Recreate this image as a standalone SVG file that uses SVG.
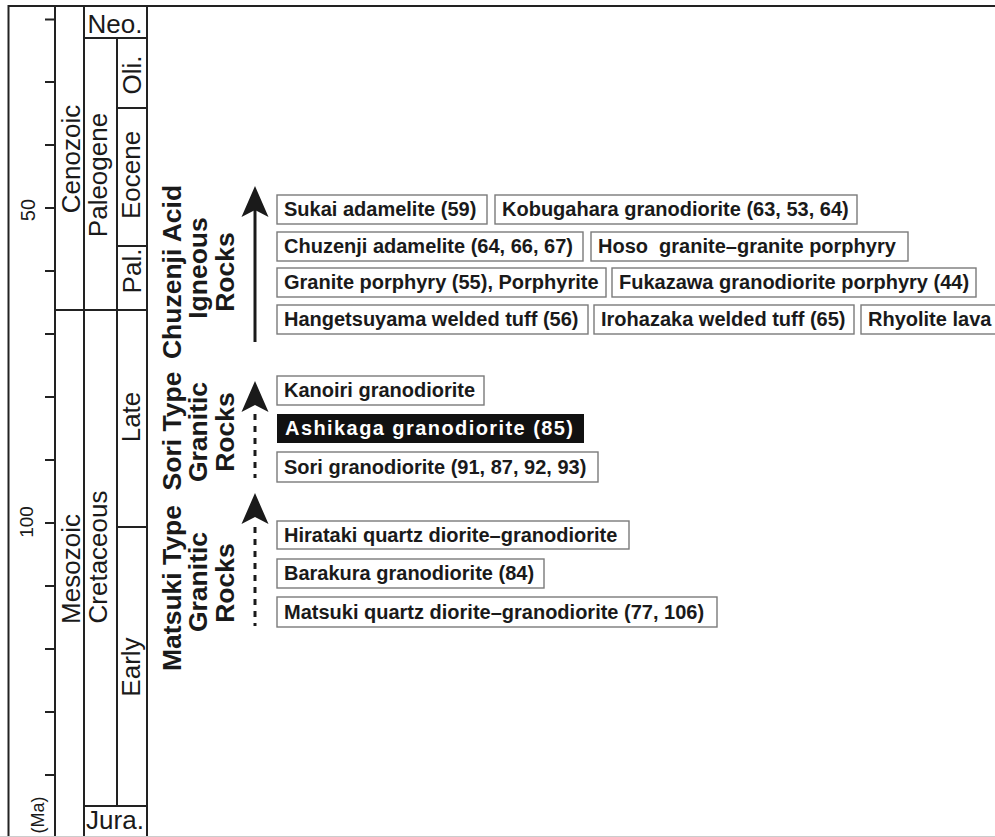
<svg xmlns="http://www.w3.org/2000/svg" width="995" height="837" viewBox="0 0 995 837">
<style>
.ln{stroke:#222;stroke-width:2;fill:none}
.reg{font-family:"Liberation Sans",Arial,sans-serif;font-size:26px;fill:#1a1a1a}
.num{font-family:"Liberation Sans",Arial,sans-serif;fill:#1a1a1a;text-anchor:middle}
.lab{font-family:"Liberation Sans",Arial,sans-serif;font-size:26.5px;font-weight:bold;fill:#1a1a1a;text-anchor:middle}
.box{fill:#fff;stroke:#7a7a7a;stroke-width:1.4}
.bt{font-family:"Liberation Sans",Arial,sans-serif;font-size:20px;font-weight:bold;fill:#1a1a1a;white-space:pre}
.mid{text-anchor:middle}
</style>
<defs>
<path id="ah" d="M0,0 L13.5,31 L0,24 L-13.5,31 Z" fill="#1a1a1a"/>
</defs>
<rect width="995" height="837" fill="#fff"/>
<g id="timescale">
<path class="ln" d="M8.5,6 H995 M8.5,5 V837 M55,6 V837 M84,6 V837 M117,38 V806 M147,6 V837 M84,38 H147 M117,108 H147 M117,246 H147 M55,310 H147 M117,527 H147 M84,806 H147"/>
<path d="M0,836.5 H995" stroke="#ccc" stroke-width="1"/>
<path class="ln" d="M45,19.5 H55 M45,82 H55 M45,145 H55 M45,208 H55 M45,271 H55 M45,334 H55 M45,397 H55 M45,460 H55 M45,523 H55 M45,586 H55 M45,649 H55 M45,712 H55 M45,775 H55"/>
<text class="num" style="font-size:20px" transform="translate(35,210) rotate(-90)">50</text>
<text class="num" style="font-size:19px" transform="translate(33,522) rotate(-90)">100</text>
<text class="num" style="font-size:18px" transform="translate(44,815) rotate(-90)">(Ma)</text>
<text class="reg mid" x="115" y="33">Neo.</text>
<text class="reg mid" x="115" y="829">Jura.</text>
<text class="reg mid" transform="translate(80,159) rotate(-90)">Cenozoic</text>
<text class="reg mid" transform="translate(80,569) rotate(-90)">Mesozoic</text>
<text class="reg mid" transform="translate(107,175) rotate(-90)">Paleogene</text>
<text class="reg mid" transform="translate(107,557) rotate(-90)">Cretaceous</text>
<text class="reg mid" transform="translate(141,75) rotate(-90)">Oli.</text>
<text class="reg mid" transform="translate(140,175) rotate(-90)">Eocene</text>
<text class="reg mid" transform="translate(141,271) rotate(-90)">Pal.</text>
<text class="reg mid" transform="translate(140,417) rotate(-90)">Late</text>
<text class="reg mid" transform="translate(140,667) rotate(-90)">Early</text>
</g>
<g id="label-chuzenji">
<text class="lab" transform="translate(181,272) rotate(-90)">Chuzenji Acid</text>
<text class="lab" transform="translate(207,268) rotate(-90)">Igneous</text>
<text class="lab" transform="translate(234,272) rotate(-90)">Rocks</text>
</g>
<g id="label-sori">
<text class="lab" transform="translate(181,431) rotate(-90)">Sori Type</text>
<text class="lab" transform="translate(207,432) rotate(-90)">Granitic</text>
<text class="lab" transform="translate(234,432) rotate(-90)">Rocks</text>
</g>
<g id="label-matsuki">
<text class="lab" transform="translate(181,588) rotate(-90)">Matsuki Type</text>
<text class="lab" transform="translate(207,582) rotate(-90)">Granitic</text>
<text class="lab" transform="translate(234,583) rotate(-90)">Rocks</text>
</g>
<g id="connectors">
<path d="M255,342 V208" stroke="#1a1a1a" stroke-width="3"/>
<use href="#ah" x="255" y="186"/>
<path d="M255,414 V478" stroke="#1a1a1a" stroke-width="3" stroke-dasharray="6 6"/>
<use href="#ah" x="255" y="381"/>
<path d="M255,527 V626" stroke="#1a1a1a" stroke-width="3" stroke-dasharray="6 6"/>
<use href="#ah" x="255" y="493"/>
</g>
<g id="n-sukai"><rect class="box" x="277" y="195" width="210" height="29"/><text class="bt" x="284" y="216">Sukai adamelite (59)</text></g>
<g id="n-kobugahara"><rect class="box" x="495" y="195" width="362" height="29"/><text class="bt" x="502" y="216">Kobugahara granodiorite (63, 53, 64)</text></g>
<g id="n-chuzenji"><rect class="box" x="277" y="232" width="306" height="29"/><text class="bt" x="284" y="253">Chuzenji adamelite (64, 66, 67)</text></g>
<g id="n-hoso"><rect class="box" x="591" y="232" width="317" height="29"/><text class="bt" x="598" y="253" xml:space="preserve">Hoso  granite–granite porphyry</text></g>
<g id="n-granite"><rect class="box" x="277" y="268" width="329" height="29"/><text class="bt" x="284" y="289">Granite porphyry (55), Porphyrite</text></g>
<g id="n-fukazawa"><rect class="box" x="612" y="268" width="364" height="29"/><text class="bt" x="619" y="289">Fukazawa granodiorite porphyry (44)</text></g>
<g id="n-hangetsuyama"><rect class="box" x="277" y="305" width="311" height="29"/><text class="bt" x="284" y="326">Hangetsuyama welded tuff (56)</text></g>
<g id="n-irohazaka"><rect class="box" x="594" y="305" width="260" height="29"/><text class="bt" x="601" y="326">Irohazaka welded tuff (65)</text></g>
<g id="n-rhyolite"><rect class="box" x="861" y="305" width="150" height="29"/><text class="bt" x="868" y="326">Rhyolite lava</text></g>
<g id="n-kanoiri"><rect class="box" x="277" y="376" width="207" height="29"/><text class="bt" x="284" y="397">Kanoiri granodiorite</text></g>
<g id="n-ashikaga"><rect x="277" y="414" width="307" height="29" fill="#111"/><text class="bt" x="285" y="435" style="fill:#fff" textLength="288" lengthAdjust="spacing">Ashikaga granodiorite (85)</text></g>
<g id="n-sori"><rect class="box" x="277" y="452" width="321" height="30"/><text class="bt" x="284" y="474">Sori granodiorite (91, 87, 92, 93)</text></g>
<g id="n-hirataki"><rect class="box" x="277" y="521" width="352" height="28"/><text class="bt" x="284" y="542">Hirataki quartz diorite–granodiorite</text></g>
<g id="n-barakura"><rect class="box" x="277" y="559" width="267" height="29"/><text class="bt" x="284" y="580">Barakura granodiorite (84)</text></g>
<g id="n-matsuki"><rect class="box" x="277" y="597" width="440" height="30"/><text class="bt" x="284" y="619">Matsuki quartz diorite–granodiorite (77, 106)</text></g>
</svg>
